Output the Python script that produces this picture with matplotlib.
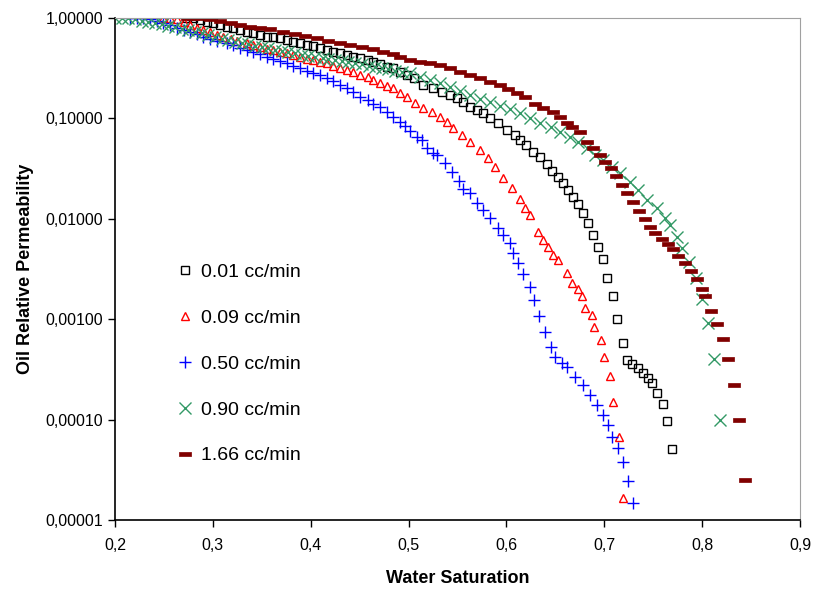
import matplotlib.pyplot as plt
from matplotlib.path import Path
from matplotlib.ticker import FixedLocator, FuncFormatter, NullLocator

# 0.01 cc/min
sw_001 = [0.274, 0.280, 0.287, 0.294, 0.300, 0.307, 0.314, 0.321, 0.328, 0.335, 0.341, 0.348,
          0.355, 0.361, 0.369, 0.376, 0.382, 0.389, 0.396, 0.402, 0.409, 0.417, 0.423, 0.430,
          0.437, 0.443, 0.450, 0.458, 0.464, 0.471, 0.478, 0.484, 0.491, 0.498, 0.505, 0.515,
          0.525, 0.534, 0.542, 0.549, 0.556, 0.563, 0.570, 0.576, 0.583, 0.591, 0.601, 0.609,
          0.614, 0.620, 0.627, 0.634, 0.641, 0.647, 0.653, 0.658, 0.663, 0.668, 0.673, 0.678,
          0.683, 0.688, 0.694, 0.699, 0.703, 0.709, 0.713, 0.719, 0.723, 0.728, 0.734, 0.739,
          0.745, 0.749, 0.754, 0.760, 0.764, 0.769]
kro_001 = [1.0, 0.99, 0.955, 0.912, 0.892, 0.852, 0.814, 0.795, 0.760, 0.725, 0.709, 0.677,
           0.647, 0.640, 0.632, 0.604, 0.577, 0.564, 0.539, 0.526, 0.502, 0.480, 0.459, 0.448,
           0.428, 0.409, 0.400, 0.382, 0.365, 0.348, 0.325, 0.318, 0.290, 0.270, 0.252, 0.215,
           0.201, 0.183, 0.171, 0.160, 0.146, 0.130, 0.121, 0.113, 0.101, 0.090, 0.077, 0.068,
           0.061, 0.054, 0.046, 0.041, 0.035, 0.030, 0.026, 0.0228, 0.0194, 0.0165, 0.0141, 0.0115,
           0.0091, 0.0069, 0.0052, 0.0040, 0.0026, 0.0017, 0.0010, 0.00058, 0.00039, 0.00036, 0.00033, 0.00029,
           0.00026, 0.000232, 0.000184, 0.000143, 0.0000968, 0.000051]

# 0.09 cc/min
sw_009 = [0.249, 0.256, 0.263, 0.270, 0.277, 0.284, 0.290, 0.297, 0.304, 0.310, 0.318, 0.325,
          0.335, 0.341, 0.348, 0.355, 0.361, 0.369, 0.376, 0.382, 0.389, 0.396, 0.402, 0.409,
          0.417, 0.423, 0.430, 0.437, 0.443, 0.450, 0.458, 0.464, 0.471, 0.478, 0.484, 0.491,
          0.498, 0.507, 0.515, 0.524, 0.532, 0.539, 0.545, 0.555, 0.563, 0.573, 0.581, 0.588,
          0.596, 0.606, 0.614, 0.619, 0.624, 0.632, 0.637, 0.642, 0.648, 0.653, 0.662, 0.667,
          0.673, 0.677, 0.680, 0.687, 0.689, 0.697, 0.700, 0.706, 0.709, 0.715, 0.719]
kro_009 = [1.0, 1.0, 0.977, 0.912, 0.852, 0.795, 0.760, 0.725, 0.677, 0.647, 0.618, 0.590,
           0.564, 0.539, 0.514, 0.491, 0.480, 0.459, 0.448, 0.428, 0.409, 0.390, 0.382, 0.365,
           0.356, 0.333, 0.318, 0.303, 0.290, 0.270, 0.258, 0.241, 0.225, 0.210, 0.201, 0.179,
           0.163, 0.142, 0.127, 0.116, 0.103, 0.092, 0.080, 0.068, 0.058, 0.048, 0.040, 0.033,
           0.0254, 0.0203, 0.0158, 0.0128, 0.0109, 0.0074, 0.0061, 0.0052, 0.0044, 0.0039, 0.0029, 0.0023,
           0.0020, 0.0017, 0.0013, 0.0011, 0.00084, 0.00062, 0.00042, 0.00027, 0.00015, 0.000067, 0.0000166]

# 0.50 cc/min
sw_050 = [0.215, 0.222, 0.229, 0.236, 0.243, 0.249, 0.256, 0.263, 0.270, 0.277, 0.284, 0.290,
          0.297, 0.304, 0.314, 0.321, 0.328, 0.335, 0.341, 0.348, 0.355, 0.361, 0.369, 0.376,
          0.382, 0.389, 0.396, 0.402, 0.409, 0.417, 0.423, 0.430, 0.437, 0.443, 0.450, 0.458,
          0.464, 0.471, 0.478, 0.484, 0.491, 0.496, 0.501, 0.509, 0.514, 0.519, 0.525, 0.529,
          0.537, 0.544, 0.551, 0.556, 0.563, 0.570, 0.576, 0.583, 0.591, 0.596, 0.604, 0.607,
          0.612, 0.617, 0.624, 0.628, 0.633, 0.639, 0.645, 0.650, 0.657, 0.662, 0.670, 0.678,
          0.685, 0.693, 0.699, 0.704, 0.708, 0.714, 0.719, 0.724, 0.729]
kro_050 = [1.0, 1.0, 0.99, 0.977, 0.933, 0.892, 0.852, 0.795, 0.760, 0.725, 0.693, 0.647,
           0.618, 0.590, 0.564, 0.539, 0.502, 0.480, 0.459, 0.438, 0.409, 0.390, 0.373, 0.356,
           0.333, 0.318, 0.297, 0.283, 0.270, 0.252, 0.236, 0.215, 0.201, 0.183, 0.163, 0.153,
           0.139, 0.130, 0.116, 0.103, 0.092, 0.084, 0.075, 0.065, 0.061, 0.051, 0.045, 0.043,
           0.036, 0.029, 0.024, 0.020, 0.018, 0.0144, 0.0123, 0.0102, 0.0081, 0.0069, 0.0057, 0.0046,
           0.0036, 0.0028, 0.0021, 0.00155, 0.00108, 0.00075, 0.00053, 0.00042, 0.000366, 0.000334, 0.000266, 0.000221,
           0.000176, 0.00014, 0.000111, 0.0000883, 0.0000671, 0.0000521, 0.0000378, 0.0000245, 0.0000148]

# 0.90 cc/min
sw_090 = [0.200, 0.207, 0.213, 0.220, 0.228, 0.234, 0.241, 0.248, 0.254, 0.261, 0.268, 0.275,
          0.282, 0.289, 0.295, 0.302, 0.309, 0.315, 0.323, 0.330, 0.336, 0.343, 0.350, 0.356,
          0.363, 0.371, 0.377, 0.384, 0.391, 0.397, 0.404, 0.412, 0.418, 0.425, 0.432, 0.438,
          0.445, 0.452, 0.459, 0.466, 0.473, 0.479, 0.486, 0.493, 0.501, 0.512, 0.522, 0.532,
          0.542, 0.553, 0.563, 0.573, 0.583, 0.593, 0.604, 0.614, 0.624, 0.634, 0.645, 0.655,
          0.665, 0.673, 0.682, 0.690, 0.699, 0.708, 0.716, 0.726, 0.734, 0.744, 0.754, 0.762,
          0.767, 0.774, 0.779, 0.787, 0.794, 0.800, 0.806, 0.812, 0.818]
kro_090 = [1.0, 1.0, 0.99, 0.977, 0.933, 0.912, 0.892, 0.871, 0.832, 0.814, 0.777, 0.760,
           0.725, 0.709, 0.677, 0.647, 0.618, 0.604, 0.577, 0.564, 0.551, 0.526, 0.514, 0.502,
           0.480, 0.469, 0.459, 0.448, 0.428, 0.418, 0.409, 0.400, 0.390, 0.382, 0.373, 0.365,
           0.356, 0.348, 0.333, 0.325, 0.318, 0.310, 0.297, 0.290, 0.283, 0.258, 0.241, 0.225,
           0.205, 0.188, 0.171, 0.156, 0.146, 0.133, 0.124, 0.113, 0.101, 0.090, 0.082, 0.073,
           0.065, 0.058, 0.051, 0.043, 0.0385, 0.0328, 0.0286, 0.0233, 0.0194, 0.0155, 0.0128, 0.0102,
           0.0087, 0.0066, 0.0051, 0.0037, 0.0026, 0.0016, 0.00092, 0.00040, 0.0000985]

# 1.66 cc/min
sw_166 = [0.274, 0.280, 0.287, 0.297, 0.307, 0.318, 0.328, 0.338, 0.348, 0.358, 0.372, 0.384,
          0.394, 0.406, 0.418, 0.430, 0.440, 0.452, 0.464, 0.474, 0.484, 0.491, 0.501, 0.512,
          0.522, 0.532, 0.542, 0.553, 0.563, 0.573, 0.583, 0.593, 0.602, 0.611, 0.619, 0.629,
          0.637, 0.648, 0.655, 0.662, 0.667, 0.675, 0.682, 0.688, 0.696, 0.701, 0.707, 0.712,
          0.718, 0.723, 0.729, 0.735, 0.742, 0.747, 0.752, 0.759, 0.765, 0.770, 0.775, 0.782,
          0.789, 0.795, 0.800, 0.803, 0.809, 0.815, 0.821, 0.826, 0.832, 0.838, 0.844]
kro_166 = [1.0, 1.0, 0.99, 0.977, 0.933, 0.892, 0.852, 0.814, 0.795, 0.777, 0.725, 0.693,
           0.662, 0.632, 0.590, 0.564, 0.539, 0.514, 0.491, 0.459, 0.438, 0.409, 0.382, 0.365,
           0.356, 0.340, 0.318, 0.290, 0.270, 0.252, 0.231, 0.215, 0.196, 0.179, 0.163, 0.139,
           0.127, 0.116, 0.103, 0.090, 0.082, 0.073, 0.058, 0.051, 0.043, 0.0368, 0.0321, 0.0267,
           0.0217, 0.0181, 0.0148, 0.0120, 0.0100, 0.0083, 0.0072, 0.0063, 0.0056, 0.0050, 0.0043, 0.0036,
           0.0030, 0.0025, 0.0020, 0.0017, 0.0012, 0.00090, 0.00063, 0.00040, 0.00022, 0.00010, 0.000025]

labels = ['0.01 cc/min', '0.09 cc/min', '0.50 cc/min', '0.90 cc/min', '1.66 cc/min']
x_ticks = [0.2, 0.3, 0.4, 0.5, 0.6, 0.7, 0.8, 0.9]
y_ticks = [1e-5, 1e-4, 1e-3, 1e-2, 1e-1, 1.0]

plt.rcParams['font.family'] = ['Liberation Sans', 'DejaVu Sans']

# wide filled bar marker for the last series
dash = Path([(-1, -0.36), (1, -0.36), (1, 0.36), (-1, 0.36), (-1, -0.36)],
            [Path.MOVETO, Path.LINETO, Path.LINETO, Path.LINETO, Path.CLOSEPOLY])

fig = plt.figure(figsize=(8.13, 5.92), dpi=100)
ax = fig.add_axes([0.1415, 0.1216, 0.8426, 0.848])

ax.plot(sw_001, kro_001, ls='none', marker='s', ms=5.5, mfc='none', mec='black', mew=1.0, label=labels[0])
ax.plot(sw_009, kro_009, ls='none', marker='^', ms=6, mfc='none', mec='#ff0000', mew=1.0, label=labels[1])
ax.plot(sw_050, kro_050, ls='none', marker='+', ms=9, mec='#0000ff', mew=1.0, label=labels[2])
ax.plot(sw_090, kro_090, ls='none', marker='x', ms=8.5, mec='#339966', mew=1.0, label=labels[3])
ax.plot(sw_166, kro_166, ls='none', marker=dash, ms=9, mfc='#800000', mec='#800000', mew=0.5, label=labels[4])

ax.set_yscale('log')
ax.set_xlim(0.2, 0.9)
ax.set_ylim(1e-5, 1.0)
ax.xaxis.set_major_locator(FixedLocator(x_ticks))
ax.yaxis.set_major_locator(FixedLocator(y_ticks))
ax.yaxis.set_minor_locator(NullLocator())
ax.xaxis.set_major_formatter(FuncFormatter(lambda v, p: f'{v:.1f}'.replace('.', ',')))
ax.yaxis.set_major_formatter(FuncFormatter(lambda v, p: f'{v:.5f}'.replace('.', ',')))
ax.tick_params(axis='both', direction='out', length=5, width=1, labelsize=11.5, colors='black')
ax.tick_params(axis='x', pad=8)

for side in ['top', 'right']:
    ax.spines[side].set_color('#a0a0a0')
for side in ['left', 'bottom']:
    ax.spines[side].set_color('black')
    ax.spines[side].set_linewidth(1.2)

ax.set_xlabel('Water Saturation', fontsize=13, fontweight='bold', labelpad=12)
ax.set_ylabel('Oil Relative Permeability', fontsize=13, fontweight='bold', labelpad=8)

ax.legend(loc='upper left', bbox_to_anchor=(0.075, 0.53), frameon=False, fontsize=14,
          handlelength=0.9, handletextpad=0.4, labelspacing=1.45, borderpad=0)

fig.savefig('out.png', dpi=100)
